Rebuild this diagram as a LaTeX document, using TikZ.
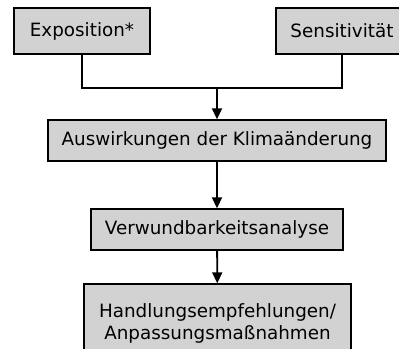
\documentclass[tikz,border=0pt]{standalone}
\usepackage{fontspec}
\setmainfont{DejaVu Sans}
\usetikzlibrary{arrows.meta}
\begin{document}
\begin{tikzpicture}[x=1bp,y=-1bp,
  box/.style={rectangle,draw,line width=1.4bp,fill=gray!35,inner sep=0pt,
    font=\fontsize{18.4}{22}\selectfont,align=center},
  flow/.style={line width=1.8bp,-{Triangle[width=10bp,length=11bp]}}]
\useasboundingbox (0,0) rectangle (399,349);
\clip (0,0) rectangle (399,349);
\node [box,minimum width=136bp,minimum height=46bp] (expo) at (82,31) {Exposition*};
\node [box,minimum width=132bp,minimum height=46bp] (sens) at (342,31) {Sensitivität};
\coordinate (join) at (217,88);
\node [box,minimum width=338bp,minimum height=41bp] (ausw) at (217,140.5) {Auswirkungen der Klimaänderung};
\node [box,minimum width=252bp,minimum height=41bp] (verw) at (217,229.5) {Verwundbarkeitsanalyse};
\node [box,minimum width=267bp,minimum height=78bp] (handl) at (217.5,323) {Handlungsempfehlungen/\\Anpassungsmaßnahmen};
% Exposition und Sensitivitaet
\draw [line width=1.8bp] (expo.south) |- (join) -| (sens.south);
\draw [flow] (join) -- (ausw);
\draw [flow] (ausw) -- (verw);
\draw [flow] (verw) -- (handl);
\end{tikzpicture}
\end{document}
